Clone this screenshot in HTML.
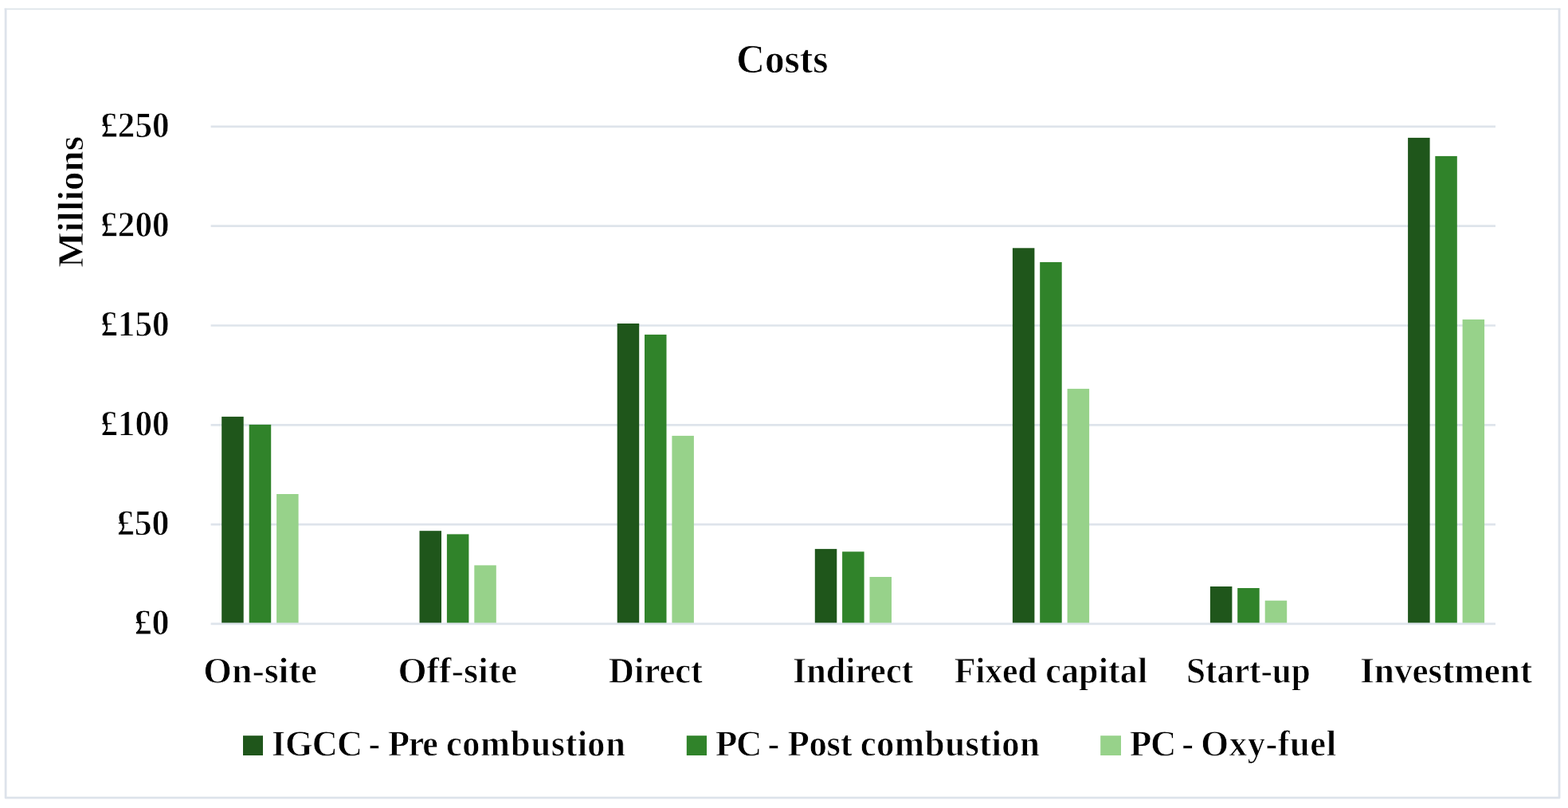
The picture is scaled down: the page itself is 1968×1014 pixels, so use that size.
<!DOCTYPE html>
<html lang="en">
<head>
<meta charset="utf-8">
<title>Costs</title>
<style>
html,body{margin:0;padding:0;background:#fff;}
body{width:1968px;height:1014px;overflow:hidden;}
svg{display:block;}
text{font-family:"Liberation Serif",serif;font-weight:700;fill:#000;text-rendering:geometricPrecision;font-variant-ligatures:none;stroke:#fff;stroke-width:0.8px;paint-order:fill stroke;}
</style>
</head>
<body>
<svg width="1968" height="1014" viewBox="0 0 1968 1014">
<rect x="0" y="0" width="1968" height="1014" fill="#ffffff"/>
<!-- chart border -->
<g stroke="#dde3eb" fill="none">
<line x1="5.7" y1="11.4" x2="1958.45" y2="11.4" stroke="#dde4e9" stroke-width="1.7"/>
<path d="M7.1 10.55V1001.2H1957.05V10.55" stroke-width="2.8" stroke-linejoin="round"/>
</g>
<!-- horizontal gridlines -->
<g stroke="#dee4eb" stroke-width="2.7">
<line x1="264.6" y1="158.9" x2="1877" y2="158.9"/>
<line x1="264.6" y1="283.7" x2="1877" y2="283.7"/>
<line x1="264.6" y1="408.5" x2="1877" y2="408.5"/>
<line x1="264.6" y1="533.3" x2="1877" y2="533.3"/>
<line x1="264.6" y1="658.15" x2="1877" y2="658.15"/>
</g>
<!-- bars -->
<g><rect x="278.2" y="522.9" width="27.5" height="260.05" fill="#1f561b"/><rect x="312.7" y="532.9" width="27.5" height="250.05" fill="#30832a"/><rect x="347.1" y="620.0" width="27.5" height="162.95" fill="#97d28a"/></g>
<g><rect x="526.5" y="666.2" width="27.5" height="116.75" fill="#1f561b"/><rect x="560.9" y="670.4" width="27.5" height="112.55" fill="#30832a"/><rect x="595.3" y="709.4" width="27.5" height="73.55" fill="#97d28a"/></g>
<g><rect x="774.7" y="406.0" width="27.5" height="376.95" fill="#1f561b"/><rect x="809.0" y="419.9" width="27.5" height="363.05" fill="#30832a"/><rect x="843.4" y="546.9" width="27.5" height="236.05" fill="#97d28a"/></g>
<g><rect x="1022.8" y="688.9" width="27.5" height="94.05" fill="#1f561b"/><rect x="1057.1" y="692.3" width="27.5" height="90.65" fill="#30832a"/><rect x="1091.5" y="724.0" width="27.5" height="58.95" fill="#97d28a"/></g>
<g><rect x="1270.9" y="311.3" width="27.5" height="471.65" fill="#1f561b"/><rect x="1305.2" y="329.0" width="27.5" height="453.95" fill="#30832a"/><rect x="1339.6" y="487.9" width="27.5" height="295.05" fill="#97d28a"/></g>
<g><rect x="1518.9" y="736.0" width="27.5" height="46.95" fill="#1f561b"/><rect x="1553.2" y="738.0" width="27.5" height="44.95" fill="#30832a"/><rect x="1587.7" y="753.7" width="27.5" height="29.25" fill="#97d28a"/></g>
<g><rect x="1767.1" y="172.9" width="27.5" height="610.05" fill="#1f561b"/><rect x="1801.3" y="195.9" width="27.5" height="587.05" fill="#30832a"/><rect x="1835.6" y="400.9" width="27.5" height="382.05" fill="#97d28a"/></g>
<!-- category axis line -->
<line x1="264.6" y1="782.95" x2="1877" y2="782.95" stroke="#dee4eb" stroke-width="2.7"/>
<!-- title -->
<text font-size="50.95" transform="matrix(0.96935 0.0005 0 1 924.25 91.070)">Costs</text>
<!-- value axis labels -->
<text font-size="45.2" transform="matrix(0.95500 0.0005 0 1 126.25 171.977)">£250</text>
<text font-size="45.2" transform="matrix(0.95500 0.0005 0 1 126.25 296.777)">£200</text>
<text font-size="45.2" transform="matrix(0.95500 0.0005 0 1 126.25 421.577)">£150</text>
<text font-size="45.2" transform="matrix(0.95500 0.0005 0 1 126.25 546.377)">£100</text>
<text font-size="45.2" transform="matrix(0.96980 0.0005 0 1 146.75 671.233)">£50</text>
<text font-size="45.2" transform="matrix(0.97465 0.0005 0 1 168.50 796.039)">£0</text>
<!-- value axis unit -->
<text font-size="45.72" transform="matrix(0.0005 -1.03026 1 0 103.96 335.75)">Millions</text>
<!-- category labels -->
<text font-size="45.72" transform="matrix(1.00341 0.0005 0 1 255.25 856.664)">On-site</text>
<text font-size="45.72" transform="matrix(1.01519 0.0005 0 1 499.50 856.663)">Off-site</text>
<text font-size="45.72" transform="matrix(0.97631 0.0005 0 1 763.75 856.670)">Direct</text>
<text font-size="45.72" transform="matrix(0.96529 0.0005 0 1 995.00 856.661)">Indirect</text>
<text font-size="45.72" transform="matrix(0.96026 0.0005 0 1 1197.75 856.637)" x="0.00 27.58 40.13 62.70 82.74 107.88 119.24 139.73 162.82 188.51 201.33 216.72 239.81">Fixed capital</text>
<text font-size="45.72" transform="matrix(0.94408 0.0005 0 1 1489.00 856.659)">Start-up</text>
<text font-size="45.72" transform="matrix(0.98791 0.0005 0 1 1707.25 856.645)">Investment</text>
<!-- legend -->
<rect x="305" y="923.2" width="25" height="24.8" fill="#1f561b"/><text font-size="45.72" transform="matrix(0.96965 0.0005 0 1 341.00 948.185)" x="0.00 17.44 52.32 84.70 117.10 125.38 140.31 150.57 176.88 195.22 214.35 225.85 246.72 270.24 309.42 335.58 361.73 380.04 395.70 408.76 432.28">IGCC - Pre combustion</text>
<rect x="861.8" y="923.2" width="25.2" height="24.8" fill="#30832a"/><text font-size="45.72" transform="matrix(0.97951 0.0005 0 1 898.00 948.196)" x="0.00 26.63 58.13 66.92 81.70 92.39 119.97 142.54 160.12 175.16 185.55 206.22 229.52 268.34 294.25 320.16 338.30 353.81 366.76 390.05">PC - Post combustion</text>
<rect x="1381.2" y="923.2" width="25.8" height="24.8" fill="#97d28a"/><text font-size="45.72" transform="matrix(0.97938 0.0005 0 1 1418.00 948.234)" x="0.00 26.51 57.87 66.67 81.45 91.13 127.42 150.75 174.09 189.64 205.17 231.14 251.84">PC - Oxy-fuel</text>
</svg>
</body>
</html>
